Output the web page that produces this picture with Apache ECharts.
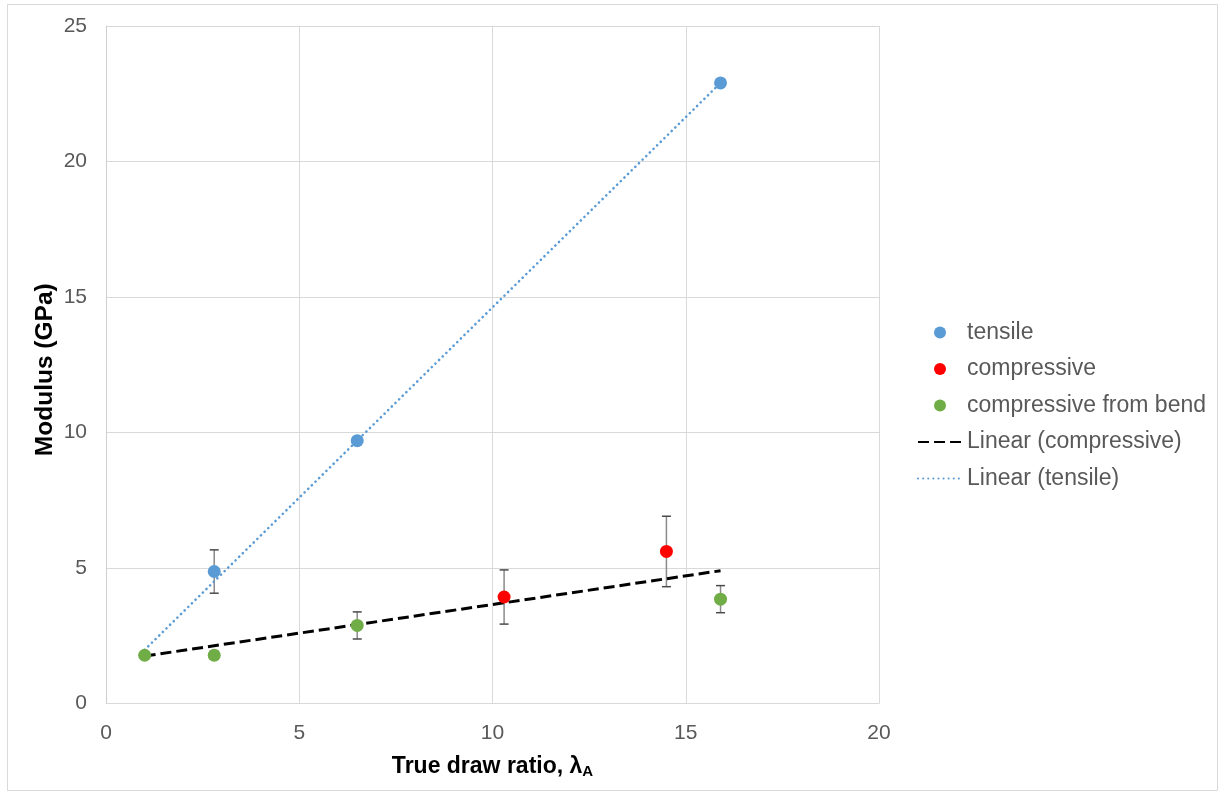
<!DOCTYPE html>
<html>
<head>
<meta charset="utf-8">
<script src="https://cdn.jsdelivr.net/npm/echarts@6/dist/echarts.min.js"></script>
<style>
  html, body { margin: 0; padding: 0; background: #fff; }
  #chart { width: 1224px; height: 796px; }
</style>
</head>
<body>
<div id="chart"></div>
<script>
// Modulus vs true draw ratio, tensile / compressive, with trend lines.

// --- data ---
const tensileX = [2.8, 6.5, 15.9];
const tensileY = [4.87, 9.7, 22.9];
const tensileErr = [0.8, 0, 0];

const compX = [10.3, 14.5];
const compY = [3.93, 5.61];
const compErr = [1.0, 1.3];

const bendX = [1, 2.8, 6.5, 15.9];
const bendY = [1.78, 1.78, 2.88, 3.85];
const bendErr = [0, 0.15, 0.5, 0.5];

// trend line end points
const fitX = [1, 15.9];
const compFitY = [1.75, 4.9];
const tensFitY = [1.98, 22.9];

const xTicks = { min: 0, max: 20, interval: 5 };
const yTicks = { min: 0, max: 25, interval: 5 };

const C_TENS = '#5b9bd5';
const C_COMP = '#ff0000';
const C_BEND = '#70ad47';
const FONT = '"Liberation Sans", Arial, sans-serif';

const zip = (xs, ys) => xs.map((x, i) => [x, ys[i]]);
const errRows = (xs, ys, es) =>
  xs.map((x, i) => [x, ys[i] - es[i], ys[i] + es[i]]).filter((r, i) => es[i] > 0);

// vertical error bar with caps, drawn through the axis scales
function errorBar(params, api) {
  const lo = api.coord([api.value(0), api.value(1)]);
  const hi = api.coord([api.value(0), api.value(2)]);
  const w = 4.5;
  const bar = { stroke: '#8a8a8a', lineWidth: 1.5 };
  const cap = { stroke: '#4a4a4a', lineWidth: 1.5 };
  return {
    type: 'group',
    children: [
      { type: 'line', shape: { x1: lo[0], y1: lo[1], x2: hi[0], y2: hi[1] }, style: bar },
      { type: 'line', shape: { x1: lo[0] - w, y1: lo[1], x2: lo[0] + w, y2: lo[1] }, style: cap },
      { type: 'line', shape: { x1: hi[0] - w, y1: hi[1], x2: hi[0] + w, y2: hi[1] }, style: cap },
    ],
  };
}

const errData = [].concat(
  errRows(tensileX, tensileY, tensileErr),
  errRows(compX, compY, compErr),
  errRows(bendX, bendY, bendErr)
);

const chart = echarts.init(document.getElementById('chart'), null, { renderer: 'canvas' });

const axisCommon = {
  type: 'value',
  splitLine: { show: true, lineStyle: { color: '#d9d9d9', width: 1 } },
  axisTick: { show: false },
  axisLabel: { color: '#595959', fontSize: 21, fontFamily: FONT },
  nameLocation: 'middle',
  nameMoveOverlap: false,
};

const noMarker = { color: 'rgba(0,0,0,0)', borderWidth: 0 };

chart.setOption({
  animation: false,
  backgroundColor: '#fff',
  textStyle: { fontFamily: FONT },
  graphic: [{
    type: 'rect',
    shape: { x: 7.5, y: 4.5, width: 1210, height: 786 },
    style: { fill: 'none', stroke: '#d9d9d9', lineWidth: 1 },
    silent: true,
  }],
  grid: { left: 106, right: 345, top: 26, bottom: 92.5 },
  xAxis: Object.assign({}, axisCommon, xTicks, {
    axisLine: { show: true, lineStyle: { color: '#d9d9d9' } },
    axisLabel: Object.assign({}, axisCommon.axisLabel, { margin: 19 }),
    name: '{b|True draw ratio, λ}{s|A}',
    nameGap: 50,
    nameTextStyle: {
      rich: {
        b: { fontSize: 23, fontWeight: 'bold', color: '#000', fontFamily: FONT },
        s: { fontSize: 15, fontWeight: 'bold', color: '#000', fontFamily: FONT, padding: [11, 0, 0, 0] },
      },
    },
  }),
  yAxis: Object.assign({}, axisCommon, yTicks, {
    axisLine: { show: true, lineStyle: { color: '#cfcfcf' } },
    axisLabel: Object.assign({}, axisCommon.axisLabel, { margin: 19 }),
    name: 'Modulus (GPa)',
    nameGap: 48,
    nameTextStyle: {
      fontSize: 24.5, fontWeight: 'bold', color: '#000', fontFamily: FONT,
      padding: [0, 10, 0, 0],
    },
  }),
  legend: {
    orient: 'vertical',
    left: 912,
    top: 315,
    itemWidth: 44,
    itemHeight: 12,
    itemGap: 11.5,
    textStyle: { color: '#595959', fontSize: 23, fontFamily: FONT, lineHeight: 25 },
    data: [
      { name: 'tensile', icon: 'circle' },
      { name: 'compressive', icon: 'circle' },
      { name: 'compressive from bend', icon: 'circle' },
      { name: 'Linear (compressive)', itemStyle: noMarker },
      { name: 'Linear (tensile)', itemStyle: noMarker },
    ],
  },
  series: [
    {
      name: 'errors',
      type: 'custom',
      renderItem: errorBar,
      data: errData,
      encode: { x: 0, y: [1, 2] },
      z: 1,
      silent: true,
    },
    {
      name: 'Linear (compressive)',
      type: 'line',
      data: zip(fitX, compFitY),
      symbol: 'none',
      lineStyle: { color: '#000', width: 3, type: [11, 5] },
      itemStyle: noMarker,
      z: 2,
    },
    {
      name: 'Linear (tensile)',
      type: 'line',
      data: zip(fitX, tensFitY),
      symbol: 'none',
      lineStyle: { color: C_TENS, width: 2.6, type: [0.1, 5], cap: 'round' },
      itemStyle: noMarker,
      z: 2,
    },
    {
      name: 'tensile',
      type: 'scatter',
      data: zip(tensileX, tensileY),
      symbolSize: 13,
      itemStyle: { color: C_TENS, opacity: 1 },
      z: 3,
    },
    {
      name: 'compressive',
      type: 'scatter',
      data: zip(compX, compY),
      symbolSize: 13,
      itemStyle: { color: C_COMP, opacity: 1 },
      z: 3,
    },
    {
      name: 'compressive from bend',
      type: 'scatter',
      data: zip(bendX, bendY),
      symbolSize: 13,
      itemStyle: { color: C_BEND, opacity: 1 },
      z: 3,
    },
  ],
});
</script>
</body>
</html>
